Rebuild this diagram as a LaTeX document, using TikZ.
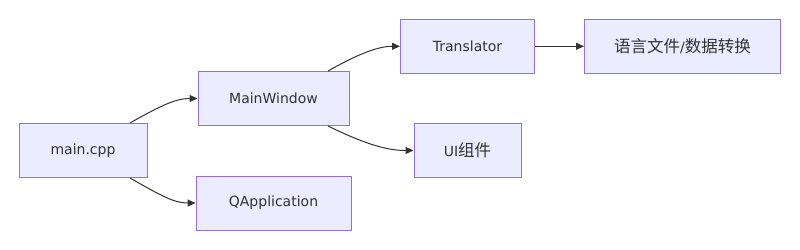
\documentclass[tikz,border=0pt]{standalone}
\usepackage{fontspec}
\setmainfont{DejaVu Sans}
\newfontfamily\cjk{Noto Sans CJK SC}
\newcommand{\cjktext}[1]{{\cjk\fontsize{16.5}{18}\selectfont #1}}
\usetikzlibrary{arrows.meta}
\definecolor{nodefill}{HTML}{ECECFF}
\definecolor{nodeline}{HTML}{9370DB}
\definecolor{txt}{HTML}{333333}
\begin{document}
\begin{tikzpicture}[x=1pt,y=-1pt,
  box/.style={draw=nodeline,fill=nodefill,line width=1pt,minimum height=54pt,inner sep=0pt,
    text=txt,font=\fontsize{14}{16}\selectfont},
  link/.style={draw=txt,line width=1pt,-{Triangle[length=8pt,width=7pt]}}]
\useasboundingbox (0,0) rectangle (800,249);
\fill[white] (0,0) rectangle (800,249);
\node[box,minimum width=128pt] (m) at (83,150.5) {main.cpp};
\node[box,minimum width=151pt] (w) at (273.5,98.5) {MainWindow};
\node[box,minimum width=155pt] (q) at (273.5,203) {QApplication};
\node[box,minimum width=134pt] (t) at (467.5,46.3) {Translator};
\node[box,minimum width=196pt] (l) at (682.5,46.3) {\cjktext{语言文件}/\cjktext{数据转换}};
\node[box,minimum width=107pt] (u) at (467.5,150.5) {UI\cjktext{组件}};
\coordinate (m1) at ([xshift=47pt]m.north);
\coordinate (m2) at ([xshift=47pt]m.south);
\coordinate (w1) at ([xshift=54.5pt]w.north);
\coordinate (w2) at ([xshift=54.5pt]w.south);
\draw[link] (m1) .. controls +(30,-17) and +(-22,0) .. (w.west);
\draw[link] (m2) .. controls +(30,17) and +(-22,0) .. (q.west);
\draw[link] (w1) .. controls +(30,-17) and +(-22,0) .. (t.west);
\draw[link] (w2) .. controls +(35,17) and +(-28,0) .. (u.west);
\draw[link] (t.east) -- (l.west);
\end{tikzpicture}
\end{document}
